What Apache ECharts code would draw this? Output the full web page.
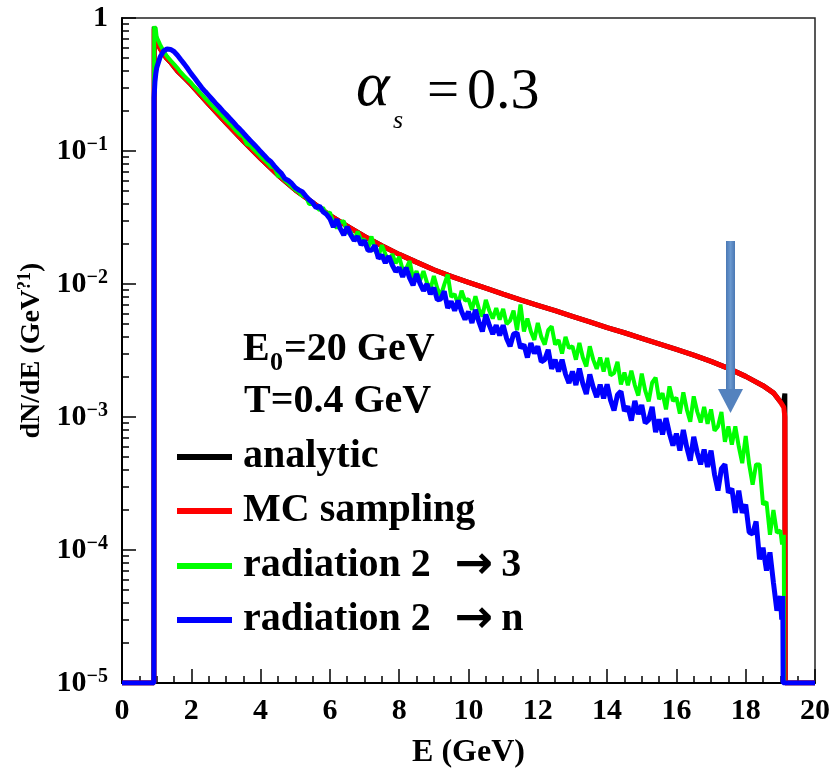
<!DOCTYPE html>
<html><head><meta charset="utf-8">
<script src="https://cdn.jsdelivr.net/npm/echarts@6/dist/echarts.min.js"></script>
<style>html,body{margin:0;padding:0;background:#fff}#c{width:834px;height:774px}</style>
</head><body><div id="c"></div>
<script>
// ---- data ----
const X_TICKS = [0,2,4,6,8,10,12,14,16,18,20];
const Y_MAJOR = [1e-5,1e-4,1e-3,1e-2,1e-1,1];
const Y_MINOR = [2e-5,3e-5,4e-5,5e-5,6e-5,7e-5,8e-5,9e-5,
                 2e-4,3e-4,4e-4,5e-4,6e-4,7e-4,8e-4,9e-4,
                 2e-3,3e-3,4e-3,5e-3,6e-3,7e-3,8e-3,9e-3,
                 2e-2,3e-2,4e-2,5e-2,6e-2,7e-2,8e-2,9e-2,
                 0.2,0.3,0.4,0.5,0.6,0.7,0.8,0.9];

const SERIES_NAMES = ['analytic','MC sampling','radiation 2  \u2192 3','radiation 2  \u2192 n'];

// smooth curves (analytic / MC sampling)
const E_SMOOTH = [0,0.92,0.93,0.96,1.0,1.1,1.2,1.3,1.4,1.6,1.8,2.0,2.5,3.0,3.5,4.0,4.5,5.0,5.5,
  6.0,6.5,7.0,7.5,8.0,8.5,9.0,9.5,10.0,10.5,11.0,11.5,12.0,12.5,13.0,13.5,14.0,14.5,15.0,15.5,
  16.0,16.5,17.0,17.5,18.0,18.5,18.8,19.0,19.1,19.13,19.14,20];
const MC_SAMPLING = [1e-5,1e-5,0.83,0.74,0.68,0.59,0.535,0.495,0.465,0.40,0.355,0.315,0.225,0.163,0.119,0.088,0.066,0.051,0.041,
  0.0328,0.0272,0.0228,0.0194,0.0167,0.0146,0.0128,0.0114,0.0103,0.0093,0.0084,0.0076,0.0069,0.0063,0.0057,0.0052,0.0047,0.0043,0.0039,0.00355,
  0.00322,0.00292,0.00262,0.00232,0.00202,0.00172,0.00152,0.0013,0.00118,0.0010,1e-5,1e-5];
const ANALYTIC = [1e-5,1e-5,0.86,0.74,0.68,0.59,0.535,0.495,0.465,0.40,0.355,0.315,0.225,0.163,0.119,0.088,0.066,0.051,0.041,
  0.0328,0.0272,0.0228,0.0194,0.0167,0.0146,0.0128,0.0114,0.0103,0.0093,0.0084,0.0076,0.0069,0.0063,0.0057,0.0052,0.0047,0.0043,0.0039,0.00355,
  0.00322,0.00292,0.00262,0.00232,0.00202,0.00172,0.00152,0.0013,0.0013,0.0015,1e-5,1e-5];

// noisy histograms, 0.1 GeV bins from 1.0 to 19.0
const E_FINE = [
 1.0,1.1,1.2,1.3,1.4,1.5,1.6,1.7,1.8,1.9,
 2.0,2.1,2.2,2.3,2.4,2.5,2.6,2.7,2.8,2.9,
 3.0,3.1,3.2,3.3,3.4,3.5,3.6,3.7,3.8,3.9,
 4.0,4.1,4.2,4.3,4.4,4.5,4.6,4.7,4.8,4.9,
 5.0,5.1,5.2,5.3,5.4,5.5,5.6,5.7,5.8,5.9,
 6.0,6.1,6.2,6.3,6.4,6.5,6.6,6.7,6.8,6.9,
 7.0,7.1,7.2,7.3,7.4,7.5,7.6,7.7,7.8,7.9,
 8.0,8.1,8.2,8.3,8.4,8.5,8.6,8.7,8.8,8.9,
 9.0,9.1,9.2,9.3,9.4,9.5,9.6,9.7,9.8,9.9,
 10.0,10.1,10.2,10.3,10.4,10.5,10.6,10.7,10.8,10.9,
 11.0,11.1,11.2,11.3,11.4,11.5,11.6,11.7,11.8,11.9,
 12.0,12.1,12.2,12.3,12.4,12.5,12.6,12.7,12.8,12.9,
 13.0,13.1,13.2,13.3,13.4,13.5,13.6,13.7,13.8,13.9,
 14.0,14.1,14.2,14.3,14.4,14.5,14.6,14.7,14.8,14.9,
 15.0,15.1,15.2,15.3,15.4,15.5,15.6,15.7,15.8,15.9,
 16.0,16.1,16.2,16.3,16.4,16.5,16.6,16.7,16.8,16.9,
 17.0,17.1,17.2,17.3,17.4,17.5,17.6,17.7,17.8,17.9,
 18.0,18.1,18.2,18.3,18.4,18.5,18.6,18.7,18.8,18.9,
 19.0];
const RAD_2_3 = [
 0.72,0.63,0.565,0.515,0.48,0.45,0.42,0.39,0.365,0.345,
 0.325,0.302,0.284,0.266,0.249,0.234,0.219,0.206,0.194,0.182,
 0.171,0.161,0.151,0.141,0.133,0.128,0.113,0.110,0.103,0.097,
 0.091,0.086,0.081,0.076,0.075,0.065,0.064,0.060,0.057,0.054,
 0.051,0.049,0.046,0.046,0.040,0.040,0.038,0.036,0.0375,0.0335,
 0.0346,0.0291,0.0262,0.0292,0.0297,0.0242,0.0247,0.0211,0.0248,0.0215,
 0.0215,0.0184,0.0228,0.0180,0.0161,0.0196,0.0168,0.0149,0.0168,0.0143,
 0.0160,0.0128,0.0130,0.0149,0.0110,0.0125,0.0106,0.0125,0.0103,0.0091,
 0.0115,0.0093,0.0081,0.0099,0.0118,0.0080,0.0084,0.0070,0.0089,0.0075,
 0.0077,0.0064,0.0081,0.0065,0.0057,0.0076,0.0063,0.0055,0.0066,0.0054,
 0.0065,0.0050,0.0053,0.0063,0.0045,0.0070,0.0044,0.0055,0.0044,0.0038,
 0.0051,0.0040,0.0035,0.0045,0.0048,0.0035,0.0038,0.0030,0.0040,0.0033,
 0.0034,0.0027,0.0036,0.0028,0.0024,0.0034,0.0027,0.0023,0.0028,0.0022,
 0.00278,0.00206,0.00214,0.00260,0.00176,0.00216,0.00173,0.00223,0.00174,0.00145,
 0.00212,0.00158,0.00131,0.00181,0.00198,0.00136,0.00151,0.00114,0.00170,0.00132,
 0.00140,0.00106,0.00153,0.00114,0.00092,0.00143,0.00110,0.00091,0.00119,0.00089,
 0.00114,0.00079,0.00085,0.00109,0.00065,0.00085,0.00062,0.00085,0.00060,0.00045,
 0.00072,0.00044,0.00031,0.00044,0.00044,0.00022,0.00023,0.00013,0.00020,0.000135,
 0.00014];
const RAD_2_N = [
 0.42,0.51,0.565,0.585,0.58,0.56,0.525,0.485,0.45,0.415,
 0.38,0.352,0.325,0.30,0.28,0.262,0.245,0.229,0.215,0.201,
 0.189,0.177,0.166,0.155,0.146,0.137,0.128,0.120,0.113,0.106,
 0.099,0.093,0.087,0.083,0.077,0.072,0.068,0.062,0.060,0.057,
 0.053,0.051,0.0495,0.046,0.043,0.041,0.0375,0.0385,0.035,0.0335,
 0.031,0.0268,0.0306,0.0261,0.0233,0.0270,0.0235,0.0212,0.0228,0.0197,
 0.0212,0.0179,0.0179,0.0195,0.0156,0.0165,0.0144,0.0162,0.0139,0.0124,
 0.0133,0.0113,0.0133,0.0111,0.0098,0.0119,0.0101,0.0089,0.0100,0.0084,
 0.0094,0.0076,0.0077,0.0088,0.0066,0.0074,0.0063,0.0075,0.0062,0.0054,
 0.0062,0.0051,0.0064,0.0052,0.0044,0.0059,0.0049,0.0042,0.0049,0.0041,
 0.0049,0.0039,0.0034,0.0042,0.0043,0.0033,0.0035,0.0028,0.0036,0.0030,
 0.0034,0.0026,0.0027,0.0032,0.0023,0.0027,0.0022,0.0027,0.0021,0.0018,
 0.0022,0.00174,0.00231,0.00178,0.00149,0.00209,0.00167,0.00141,0.00175,0.00138,
 0.00176,0.00134,0.00112,0.00147,0.00156,0.00111,0.00120,0.00094,0.00132,0.00105,
 0.00123,0.00090,0.00095,0.00119,0.00077,0.00096,0.00074,0.00098,0.00075,0.00061,
 0.00075,0.00056,0.00080,0.00059,0.00047,0.00071,0.00054,0.00044,0.00057,0.00042,
 0.00056,0.00037,0.00028,0.00041,0.00044,0.00027,0.00029,0.00019,0.00028,0.00019,
 0.00022,0.000136,0.000132,0.000164,0.000085,0.000104,0.00007,0.000096,0.000057,0.000035,
 0.000045];
// edges of the histograms (zero bins drawn on the axis floor)
const RAD_2_3_LEAD_E = [0,0.92,0.925,0.93,0.95,0.97];
const RAD_2_3_LEAD_V = [1e-5,1e-5,0.36,0.87,0.76,0.85];
const RAD_2_3_TAIL_E = [19.05,19.1,19.11,20];
const RAD_2_3_TAIL_V = [0.00011,0.00013,1e-5,1e-5];
const RAD_2_N_LEAD_E = [0,0.92,0.925,0.95,0.975];
const RAD_2_N_LEAD_V = [1e-5,1e-5,0.25,0.33,0.38];
const RAD_2_N_TAIL_E = [19.04,19.07,19.08,20];
const RAD_2_N_TAIL_V = [0.00003,0.000045,1e-5,1e-5];

// ---- build ----
function pairs(es, vs){ return es.map((e,i)=>[e, vs[i]]); }
const dataAnalytic = pairs(E_SMOOTH, ANALYTIC);
const dataMC = pairs(E_SMOOTH, MC_SAMPLING);
const data23 = pairs(RAD_2_3_LEAD_E, RAD_2_3_LEAD_V).concat(pairs(E_FINE, RAD_2_3), pairs(RAD_2_3_TAIL_E, RAD_2_3_TAIL_V));
const data2n = pairs(RAD_2_N_LEAD_E, RAD_2_N_LEAD_V).concat(pairs(E_FINE, RAD_2_N), pairs(RAD_2_N_TAIL_E, RAD_2_N_TAIL_V));

const FONT = '"Liberation Serif", "Times New Roman", serif';
const COLORS = ['#000000','#ff0000','#00ff00','#0000ff'];
const chart = echarts.init(document.getElementById('c'), null, {renderer:'canvas'});

const legendCenters = [457, 511, 566, 620];
const legends = SERIES_NAMES.map((n,i)=>({
  data:[n], left:177, top: legendCenters[i]-24, orient:'vertical', selectedMode:false,
  icon:'rect', itemWidth:55, itemHeight:6, padding:0,
  formatter:function(name){ return name.replace('  \u2192 ', '{sp| }{ar|\u2192}'); },
  textStyle:{fontFamily:FONT, fontWeight:'bold', fontSize:40, color:'#000', lineHeight:48, padding:[0,0,0,6],
    rich:{
      ar:{fontFamily:'"DejaVu Sans", sans-serif', fontWeight:'bold', fontSize:46, color:'#000', lineHeight:48, padding:[0,8,0,0]},
      sp:{fontFamily:FONT, fontWeight:'bold', fontSize:40, color:'#000', lineHeight:48, padding:[0,14,0,0]}}}
}));

function lineSeries(name, data, color, width){
  return {name, type:'line', data, showSymbol:false, symbol:'none', color,
    lineStyle:{color, width}, itemStyle:{color}, animation:false, z:2};
}

chart.setOption({
  animation:false,
  backgroundColor:'#fff',
  grid:{left:122, right:19, top:18, bottom:86, show:true, borderColor:'#222', borderWidth:1.5, backgroundColor:'transparent'},
  legend: legends,
  xAxis:{type:'value', min:0, max:20, interval:2,
    name:'E (GeV)', nameLocation:'middle', nameGap:54,
    nameTextStyle:{fontFamily:FONT, fontWeight:'bold', fontSize:32, color:'#000'},
    axisLine:{show:true, onZero:false, lineStyle:{color:'#000', width:2}},
    axisTick:{show:true, inside:true, length:14, lineStyle:{color:'#000', width:1.5}},
    minorTick:{show:true, splitNumber:4, length:7, lineStyle:{color:'#000', width:1.5}},
    axisLabel:{fontFamily:FONT, fontWeight:'bold', fontSize:30, color:'#000', margin:13},
    splitLine:{show:false}, minorSplitLine:{show:false}},
  yAxis:[
    {type:'log', logBase:10, min:1e-5, max:1, position:'left',
     name:'{a|dN/dE (GeV}{s|?1}{a|)}', nameLocation:'middle', nameGap:63, nameRotate:90,
     nameTextStyle:{rich:{
       a:{fontFamily:FONT, fontWeight:'bold', fontSize:28, color:'#000', lineHeight:30},
       s:{fontFamily:FONT, fontWeight:'bold', fontSize:18, color:'#000', verticalAlign:'top', lineHeight:30}}},
     axisLine:{show:true, lineStyle:{color:'#000', width:2}},
     axisTick:{show:true, inside:true, length:14, customValues:Y_MAJOR, lineStyle:{color:'#000', width:1.5}},
     axisLabel:{customValues:Y_MAJOR, margin:14,
       formatter:function(v){ const p=Math.round(Math.log10(v)); return p===0?'{b|1}':'{b|10}{s|\u2212'+(-p)+'}'; },
       rich:{
         b:{fontFamily:FONT, fontWeight:'bold', fontSize:30, color:'#000', lineHeight:32},
         s:{fontFamily:FONT, fontWeight:'bold', fontSize:20, color:'#000', verticalAlign:'top', lineHeight:32}}},
     splitLine:{show:false}},
    {type:'log', logBase:10, min:1e-5, max:1, position:'left', offset:0,
     axisLine:{show:false},
     axisTick:{show:true, inside:true, length:7, customValues:Y_MINOR, lineStyle:{color:'#000', width:1.5}},
     axisLabel:{show:false}, splitLine:{show:false}}
  ],
  series:[
    lineSeries(SERIES_NAMES[0], dataAnalytic, COLORS[0], 5),
    lineSeries(SERIES_NAMES[1], dataMC, COLORS[1], 5),
    lineSeries(SERIES_NAMES[2], data23, COLORS[2], 4),
    lineSeries(SERIES_NAMES[3], data2n, COLORS[3], 5)
  ],
  graphic:[
    {type:'text', x:356, y:88, style:{text:'\u03b1', font:'italic 64px '+FONT, fill:'#000', verticalAlign:'middle'}},
    {type:'text', x:393, y:121, style:{text:'s', font:'italic 26px '+FONT, fill:'#000', verticalAlign:'middle'}},
    {type:'text', x:427, y:93, style:{text:'=', font:'57px '+FONT, fill:'#000', verticalAlign:'middle'}},
    {type:'text', x:467, y:93, style:{text:'0.3', font:'58px '+FONT, fill:'#000', verticalAlign:'middle'}},
    {type:'text', x:243, y:350, style:{text:'E', font:'bold 40px '+FONT, fill:'#000', verticalAlign:'middle'}},
    {type:'text', x:270, y:363, style:{text:'0', font:'bold 26px '+FONT, fill:'#000', verticalAlign:'middle'}},
    {type:'text', x:284, y:350, style:{text:'=20 GeV', font:'bold 40px '+FONT, fill:'#000', verticalAlign:'middle'}},
    {type:'text', x:244, y:402, style:{text:'T=0.4 GeV', font:'bold 40px '+FONT, fill:'#000', verticalAlign:'middle'}},
    {type:'rect', shape:{x:726, y:241, width:9, height:149},
      style:{fill:new echarts.graphic.LinearGradient(0,0,1,0,[{offset:0,color:'#4a78b4'},{offset:0.5,color:'#6a98cf'},{offset:1,color:'#4a78b4'}])}, z:10},
    {type:'polygon', shape:{points:[[718,389],[743,389],[730.5,413]]}, style:{fill:'#5482be'}, z:10}
  ]
});
</script></body></html>
